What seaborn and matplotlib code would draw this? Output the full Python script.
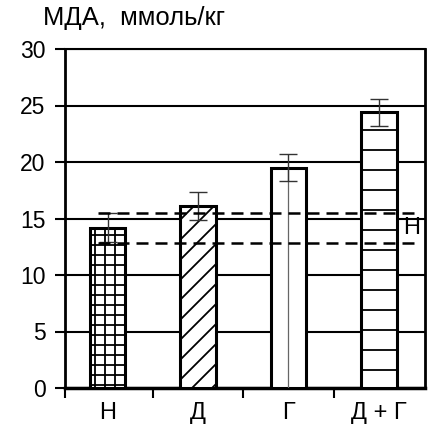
import matplotlib
matplotlib.use('Agg')
import matplotlib.pyplot as plt
import seaborn as sns
import pandas as pd

# ---- data ----
groups = ['Н', 'Д', 'Г', 'Д + Г']
mda = [14.2, 16.1, 19.5, 24.4]
mda_err = [1.3, 1.25, 1.2, 1.2]
norm_low = 12.8
norm_high = 15.5
norm_label = 'Н'
y_ticks = [0, 5, 10, 15, 20, 25, 30]
title = 'МДА,  ммоль/кг'
hatches = ['++', '//', '', '-']

DPI = 120
k = 100 / DPI  # sizes below are expressed as at 100 dpi

sns.set_theme(style='white')
plt.rcParams['font.family'] = ['Liberation Sans', 'DejaVu Sans']
plt.rcParams['hatch.linewidth'] = 1.3 * k
plt.rcParams['text.color'] = 'black'
plt.rcParams['axes.labelcolor'] = 'black'
plt.rcParams['xtick.color'] = 'black'
plt.rcParams['ytick.color'] = 'black'

fig = plt.figure(figsize=(429 / DPI, 426 / DPI), dpi=DPI)
ax = fig.add_axes([65 / 429, 1 - 388 / 426, 360 / 429, 339 / 426])

df = pd.DataFrame({'group': groups, 'mda': mda})
sns.barplot(data=df, x='group', y='mda', ax=ax, color='white',
            edgecolor='black', linewidth=2.2 * k, width=0.39, zorder=3,
            errorbar=None)
for p, h in zip(ax.patches, hatches):
    p.set_facecolor('white')
    p.set_hatch(h)

xs = list(range(len(groups)))
# center line inside the Г bar
ax.vlines(xs[2], 0, mda[2], color='#666666', lw=0.9 * k, zorder=4)

ax.errorbar(xs, mda, yerr=mda_err, fmt='none', ecolor='#333333',
            elinewidth=1.0 * k, capsize=6.5 * k, capthick=1.0 * k, zorder=5)

for yv in (norm_low, norm_high):
    ax.plot([-0.11, 3.43], [yv, yv], color='black', lw=1.8 * k,
            ls=(0, (4.8, 2.8)), zorder=6)
ax.text(3.27, (norm_low + norm_high) / 2, norm_label, fontsize=17 * k,
        ha='left', va='center', zorder=7)

ax.set_ylim(0, 30)
ax.set_xlim(-0.47, 3.51)
ax.set_yticks(y_ticks)
ax.yaxis.grid(True, color='black', lw=1.5 * k)
ax.xaxis.grid(False)
ax.set_axisbelow(True)
ax.set_xlabel('')
ax.set_ylabel('')

ax.tick_params(axis='y', left=True, direction='out', length=7 * k,
               width=1.5 * k, labelsize=16.5 * k, pad=7 * k)
ax.set_xticks(xs)
ax.set_xticklabels(groups)
ax.set_xticks([-0.47, 0.5, 1.5, 2.5], minor=True)
ax.tick_params(axis='x', which='major', bottom=True, length=0,
               labelsize=17 * k, pad=10 * k)
ax.tick_params(axis='x', which='minor', bottom=True, direction='out',
               length=7 * k, width=1.5 * k)

for side, lw in (('left', 2.0), ('bottom', 2.5), ('right', 2.0), ('top', 1.5)):
    ax.spines[side].set_visible(True)
    ax.spines[side].set_color('black')
    ax.spines[side].set_linewidth(lw * k)

fig.text(43 / 429, 1 - 25 / 426, title, fontsize=18.5 * k, ha='left',
         va='baseline')

fig.savefig('out.png', dpi=DPI)
